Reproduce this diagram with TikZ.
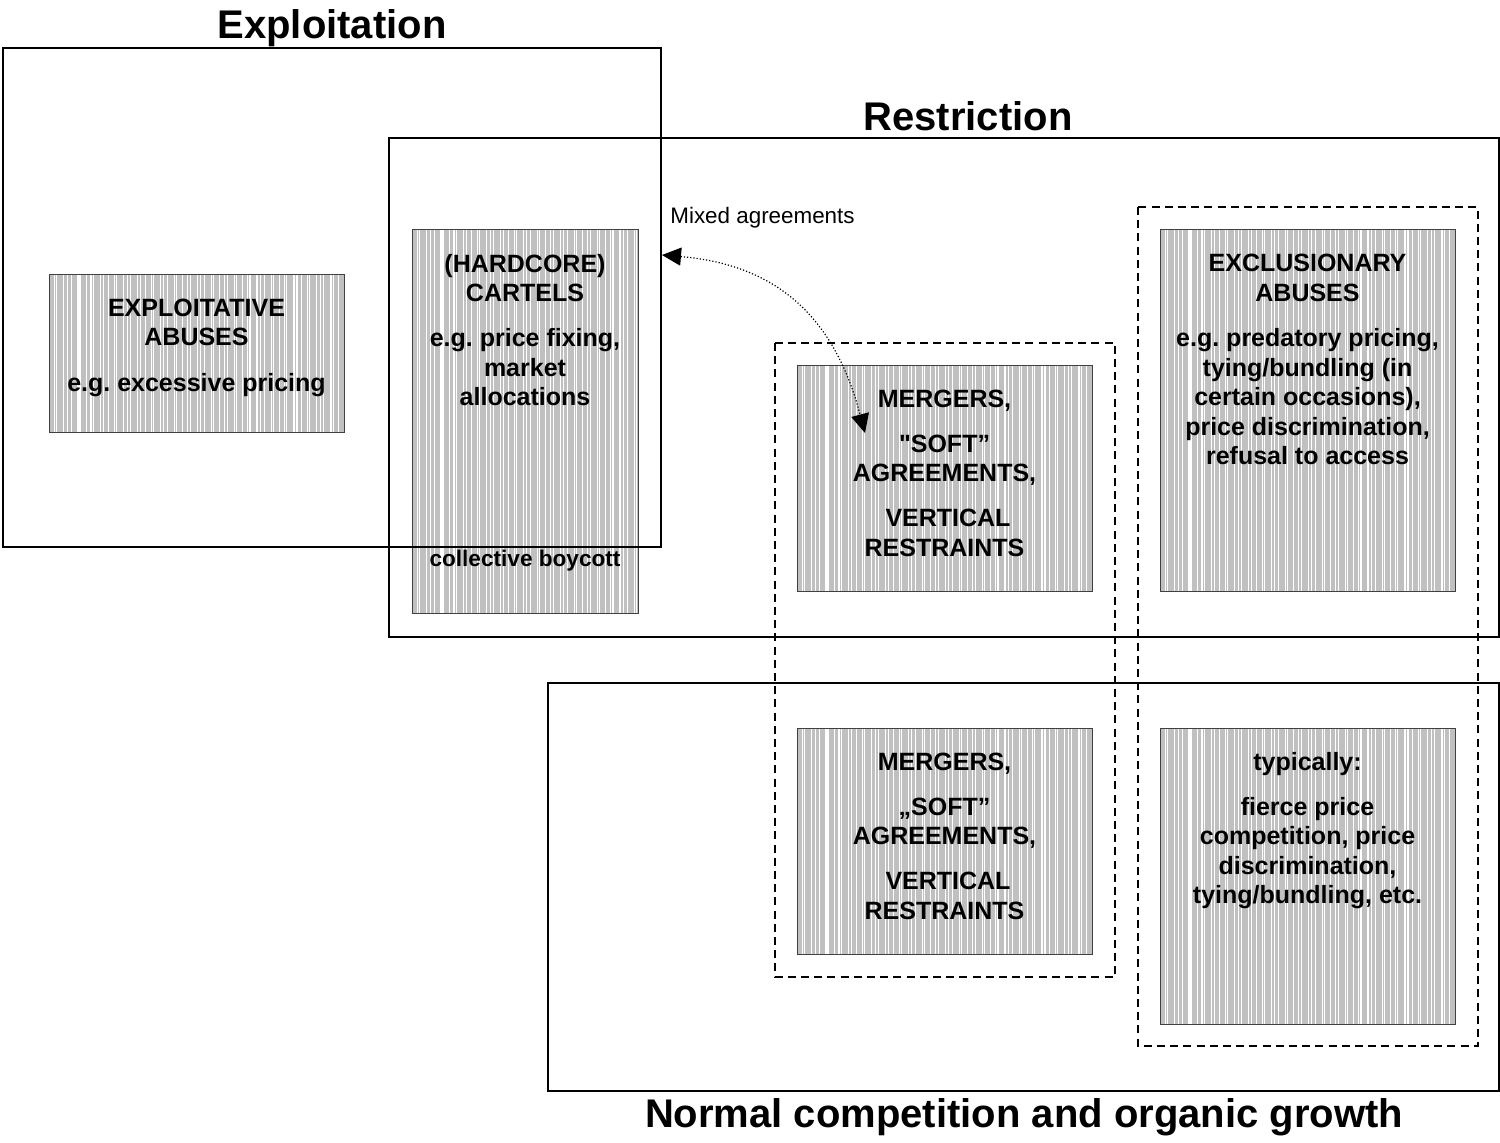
\documentclass[tikz,border=0pt]{standalone}
\usepackage{fontspec}
\setmainfont{Liberation Sans}
\newfontfamily\rawquotes{Liberation Sans}[Ligatures=TeXOff]
\usetikzlibrary{arrows.meta}
\definecolor{stripegray}{HTML}{C0C0C0}
\frenchspacing
\tikzset{
  stripebox/.style={rectangle, draw=black!75, line width=0.5pt, fill=stripegray,
    inner sep=0pt, outer sep=0pt,
    path picture={
      \foreach \k in {0,...,75}{
        \pgfmathsetmacro{\xo}{2.3*\k + 0.7*sin(\k*137)}
        \draw[white, line width=0.55pt]
          ([xshift=\xo pt]path picture bounding box.south west) --
          ([xshift=\xo pt]path picture bounding box.north west);
      }}},
  frame/.style={draw=black, line width=0.8pt},
  dashframe/.style={draw=black, line width=0.8pt, dash pattern=on 4pt off 2.6pt},
  lbl/.style={anchor=base, font=\fontsize{12.5}{15}\selectfont\bfseries, inner sep=0pt},
  heading/.style={anchor=base, font=\fontsize{20}{24}\selectfont\bfseries, inner sep=0pt},
  note/.style={anchor=base west, font=\fontsize{11.2}{13}\selectfont, inner sep=0pt},
  mixarrow/.style={densely dotted, line width=0.6pt,
    {Triangle[length=9.5pt,width=9pt]}-{Triangle[length=9.5pt,width=9pt]}}
}
\begin{document}
\begin{tikzpicture}[x=0.5pt, y=-0.5pt]
\useasboundingbox (0,0) rectangle (1500,1143);

% shaded category boxes
\node[stripebox, minimum width=147.5pt, minimum height=79pt]  (expl)  at (196.5,354) {};
\node[stripebox, minimum width=113pt,   minimum height=192pt] (cart)  at (525,422) {};
\node[stripebox, minimum width=147.5pt, minimum height=113pt] (mergA) at (944.5,479) {};
\node[stripebox, minimum width=147.5pt, minimum height=113pt] (mergB) at (944.5,842) {};
\node[stripebox, minimum width=147.5pt, minimum height=181pt] (excl)  at (1307.5,411) {};
\node[stripebox, minimum width=147.5pt, minimum height=147.5pt] (typ) at (1307.5,876.5) {};

% dashed groupings
\draw[dashframe] (775,343) rectangle (1115,977);
\draw[dashframe] (1138,207) rectangle (1478,1046);

% domain frames
\draw[frame] (3,48) rectangle (661,547);
\draw[frame] (389,138) rectangle (1499,637);
\draw[frame] (548,683) rectangle (1499,1091);

% domain headings
\node[heading] (hExp)  at (332,39)   {Exploitation};
\node[heading] (hRes)  at (968,131)  {Restriction};
\node[heading] (hNorm) at (1024,1127) {Normal competition and organic growth};

% exploitative abuses
\node[lbl] (e1) at (196.5,317) {EXPLOITATIVE};
\node[lbl] (e2) at (196.5,346) {ABUSES};
\node[lbl] (e3) at (196.5,392) {e.g. excessive pricing};

% cartels
\node[lbl] (c1) at (525,273) {(HARDCORE)};
\node[lbl] (c2) at (525,302) {CARTELS};
\node[lbl] (c3) at (525,347) {e.g. price fixing,};
\node[lbl] (c4) at (525,377) {market};
\node[lbl] (c5) at (525,406) {allocations};
\node[lbl, font=\fontsize{11.3}{14}\selectfont\bfseries] (c6) at (525,567) {collective boycott};

% mergers, upper
\node[lbl] (m1) at (944.5,408) {MERGERS,};
\node[lbl] (m2) at (944.5,453) {{\rawquotes "}SOFT”};
\node[lbl] (m3) at (944.5,482) {AGREEMENTS,};
\node[lbl] (m4) at (948,527)   {VERTICAL};
\node[lbl] (m5) at (944.5,557) {RESTRAINTS};

% mergers, lower
\node[lbl] (n1) at (944.5,771) {MERGERS,};
\node[lbl] (n2) at (944.5,816) {„SOFT”};
\node[lbl] (n3) at (944.5,845) {AGREEMENTS,};
\node[lbl] (n4) at (948,890)   {VERTICAL};
\node[lbl] (n5) at (944.5,920) {RESTRAINTS};

% exclusionary abuses
\node[lbl] (x1) at (1307.5,272) {EXCLUSIONARY};
\node[lbl] (x2) at (1307.5,302) {ABUSES};
\node[lbl] (x3) at (1307.5,347) {e.g. predatory pricing,};
\node[lbl] (x4) at (1307.5,377) {tying/bundling (in};
\node[lbl] (x5) at (1307.5,406) {certain occasions),};
\node[lbl] (x6) at (1307.5,436) {price discrimination,};
\node[lbl] (x7) at (1307.5,465) {refusal to access};

% normal competitive conduct
\node[lbl] (t1) at (1307.5,771) {typically:};
\node[lbl] (t2) at (1307.5,816) {fierce price};
\node[lbl] (t3) at (1307.5,845) {competition, price};
\node[lbl] (t4) at (1307.5,875) {discrimination,};
\node[lbl] (t5) at (1307.5,904) {tying/bundling, etc.};

% mixed agreements link
\node[note] (mix) at (670,224) {Mixed agreements};
\coordinate (mixA) at (662,255);
\coordinate (mixB) at (865,433);
\draw[mixarrow] (mixA) .. controls (780,265) and (835,320) .. (mixB);
\end{tikzpicture}
\end{document}
